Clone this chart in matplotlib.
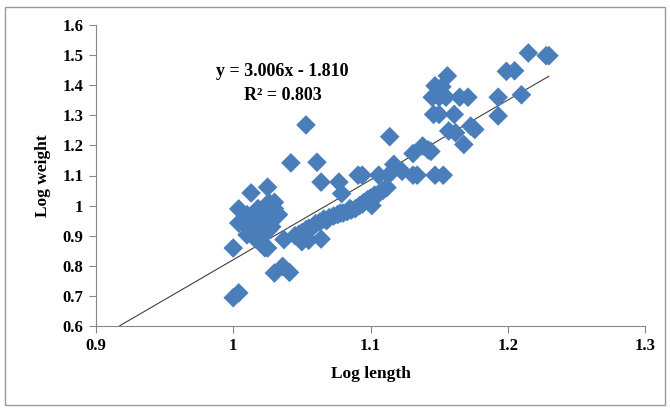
import matplotlib
matplotlib.use("Agg")
import matplotlib.pyplot as plt
from matplotlib.patches import Rectangle

# log length / log weight values
log_length = [
    1.000, 1.000, 1.004, 1.004, 1.004, 1.013, 1.010, 1.025, 1.030, 1.033,
    1.025, 1.030, 1.036, 1.041, 1.037, 1.042, 1.053, 1.061, 1.064, 1.064,
    1.077, 1.079, 1.091, 1.094, 1.101, 1.114, 1.106, 1.113, 1.117, 1.123,
    1.131, 1.134, 1.131, 1.138, 1.142, 1.144, 1.147, 1.153, 1.145, 1.150,
    1.155, 1.147, 1.152, 1.156, 1.146, 1.150, 1.161, 1.157, 1.162, 1.168,
    1.165, 1.171, 1.173, 1.176, 1.193, 1.193, 1.199, 1.205, 1.210, 1.215,
    1.228, 1.230,
    # cluster near 1.0 - 1.03
    1.012, 1.015, 1.018, 1.020, 1.022, 1.024, 1.026, 1.028, 1.016, 1.020,
    1.022, 1.025, 1.018, 1.010, 1.014, 1.026, 1.028, 1.023, 1.030, 1.008,
    # main band
    1.045, 1.048, 1.050, 1.053, 1.055, 1.058, 1.060, 1.063, 1.066, 1.070,
    1.073, 1.076, 1.080, 1.083, 1.086, 1.089, 1.092, 1.095, 1.098, 1.100,
    1.103, 1.106, 1.109, 1.112, 1.050, 1.055, 1.085, 1.068, 1.078, 1.094,
]
log_weight = [
    0.859, 0.694, 0.710, 0.989, 0.942, 1.042, 0.903, 1.061, 1.011, 0.970,
    0.859, 0.776, 0.798, 0.778, 0.887, 1.142, 1.268, 1.144, 1.078, 0.889,
    1.078, 1.040, 1.101, 1.101, 1.000, 1.229, 1.101, 1.101, 1.137, 1.114,
    1.101, 1.101, 1.173, 1.198, 1.185, 1.180, 1.101, 1.101, 1.360, 1.360,
    1.360, 1.398, 1.395, 1.431, 1.303, 1.303, 1.303, 1.248, 1.242, 1.203,
    1.360, 1.360, 1.264, 1.253, 1.360, 1.298, 1.446, 1.448, 1.368, 1.507,
    1.498, 1.498,
    0.950, 0.920, 0.960, 0.940, 0.980, 1.000, 0.920, 0.960, 0.890, 0.880,
    0.910, 0.950, 0.990, 0.970, 0.935, 1.010, 0.930, 0.860, 0.990, 0.940,
    0.900, 0.905, 0.910, 0.920, 0.925, 0.930, 0.940, 0.945, 0.955, 0.960,
    0.965, 0.970, 0.975, 0.980, 0.985, 0.990, 1.000, 1.010, 1.020, 1.025,
    1.035, 1.040, 1.050, 1.060, 0.880, 0.885, 0.990, 0.950, 0.975, 1.005,
]

# trend line as drawn on the chart
trend_x = [0.917, 1.230]
trend_y = [0.600, 1.430]

x_ticks = [0.9, 1.0, 1.1, 1.2, 1.3]
x_labels = ["0.9", "1", "1.1", "1.2", "1.3"]
y_ticks = [0.6, 0.7, 0.8, 0.9, 1.0, 1.1, 1.2, 1.3, 1.4, 1.5, 1.6]
y_labels = ["0.6", "0.7", "0.8", "0.9", "1", "1.1", "1.2", "1.3", "1.4", "1.5", "1.6"]

plt.rcParams['font.family'] = ['Liberation Serif', 'DejaVu Serif']

fig = plt.figure(figsize=(6.7, 4.09), dpi=100)
ax = fig.add_axes([96 / 670, 1 - 326 / 409, (645 - 96) / 670, (326 - 25) / 409])

ax.plot(trend_x, trend_y, color="#404040", lw=0.8, zorder=2)
ax.scatter(log_length, log_weight, marker="D", s=100, color="#4a7ebb",
           edgecolors="none", zorder=3)

ax.set_xlim(0.9, 1.3)
ax.set_ylim(0.6, 1.6)
ax.set_xticks(x_ticks)
ax.set_xticklabels(x_labels)
ax.set_yticks(y_ticks)
ax.set_yticklabels(y_labels)
for lab in ax.get_xticklabels() + ax.get_yticklabels():
    lab.set_fontweight("bold")
    lab.set_fontsize(12)
ax.tick_params(direction="out", length=5, color="#888888", pad=4)

for side in ["top", "right"]:
    ax.spines[side].set_visible(False)
for side in ["left", "bottom"]:
    ax.spines[side].set_color("#888888")

ax.set_xlabel("Log length", fontsize=12.5, fontweight="bold", labelpad=8)
ax.set_ylabel("Log weight", fontsize=12.5, fontweight="bold", labelpad=8)

ax.text(1.036, 1.444, "y = 3.006x - 1.810", fontsize=13, fontweight="bold",
        ha="center", va="center")
ax.text(1.036, 1.367, "R² = 0.803", fontsize=13, fontweight="bold",
        ha="center", va="center")

# outer chart border
fig.patches.append(Rectangle((5 / 670, 4 / 409), 660 / 670, 398 / 409,
                             transform=fig.transFigure, fill=False,
                             edgecolor="#999999", lw=1))

fig.savefig("out.png", dpi=100)
